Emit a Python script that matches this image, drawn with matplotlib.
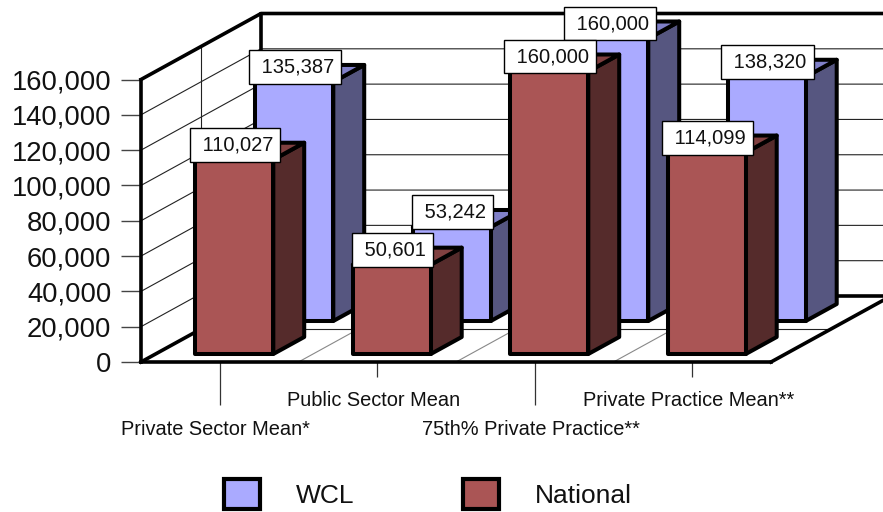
import matplotlib
matplotlib.use('Agg')
import matplotlib.pyplot as plt
from matplotlib.patches import Polygon, Patch
from matplotlib.transforms import ScaledTranslation

plt.rcParams['font.family'] = ['Liberation Sans', 'DejaVu Sans']

# Chart data
categories = ['Private Sector Mean*', 'Public Sector Mean', '75th% Private Practice**', 'Private Practice Mean**']
wcl = [135387, 53242, 160000, 138320]
national = [110027, 50601, 160000, 114099]
y_ticks = [0, 20000, 40000, 60000, 80000, 100000, 120000, 140000, 160000]

# Oblique projection, one depth unit moves the point right and up
depth_x = 120 / 157.5
depth_y = 66 * 160000 / 282.5
bar_width = 78 / 157.5
bar_depth = 17 / 66
bar_gap = (1 - bar_width) / 2


def proj(x, d, v):
    return (x + d * depth_x, v + d * depth_y)


fig = plt.figure(figsize=(8.83, 5.12), dpi=100)
ax = fig.add_axes([0, 0, 1, 1])
ax.set_xlim(-141 / 157.5, (883 - 141) / 157.5)
ax.set_ylim(-150 * 160000 / 282.5, 362 * 160000 / 282.5)
ax.patch.set_visible(False)

n = len(categories)
top = y_ticks[-1]

# Walls: gridlines
for v in y_ticks[1:]:
    xs, ys = zip(proj(0, 0, v), proj(0, 1, v), proj(n, 1, v))
    ax.plot(xs, ys, color='#222222', lw=0.8, zorder=1)

# Mid depth lines
xs, ys = zip(proj(0, 0.5, 0), proj(0, 0.5, top))
ax.plot(xs, ys, color='#222222', lw=0.8, zorder=1)
xs, ys = zip(proj(0, 0.5, 0), proj(n, 0.5, 0))
ax.plot(xs, ys, color='#222222', lw=0.8, zorder=1)
for i in range(1, n):
    xs, ys = zip(proj(i, 0, 0), proj(i, 1, 0))
    ax.plot(xs, ys, color='#888888', lw=0.8, zorder=1)

# Heavy outline of walls and floor
outline = [
    [proj(0, 0, top), proj(0, 1, top), proj(n, 1, top)],
    [proj(0, 1, top), proj(0, 1, 0), proj(n, 1, 0)],
    [proj(0, 0, 0), proj(0, 1, 0)],
    [proj(n, 0, 0), proj(n, 1, 0)],
]
for seg in outline:
    xs, ys = zip(*seg)
    ax.plot(xs, ys, color='black', lw=2.6, zorder=2, solid_capstyle='projecting')


def draw_bars(values, d0, front, side, roof, z):
    for i, v in enumerate(values):
        x0 = i + bar_gap
        x1 = x0 + bar_width
        d1 = d0 + bar_depth
        style = dict(edgecolor='black', lw=2.9, joinstyle='round', zorder=z)
        ax.add_patch(Polygon([proj(x1, d0, 0), proj(x1, d1, 0), proj(x1, d1, v), proj(x1, d0, v)], facecolor=side, **style))
        ax.add_patch(Polygon([proj(x0, d0, v), proj(x1, d0, v), proj(x1, d1, v), proj(x0, d1, v)], facecolor=roof, **style))
        ax.add_patch(Polygon([proj(x0, d0, 0), proj(x1, d0, 0), proj(x1, d0, v), proj(x0, d0, v)], facecolor=front, **style))
        ax.annotate(' ' + format(v, ','), proj(i + 0.5, d0, v), xytext=(0.5, 3.8), textcoords='offset points',
                    ha='center', va='bottom', fontsize=14.5, color='#111111', zorder=8,
                    bbox=dict(boxstyle='square,pad=0.36', facecolor='white', edgecolor='black', lw=1.0))


draw_bars(wcl, 41 / 66, '#AAAAFF', '#565680', '#8080C8', 4)
draw_bars(national, 8 / 66, '#AA5555', '#552B2B', '#804040', 5)

# Axes
for s in ['top', 'right']:
    ax.spines[s].set_visible(False)
ax.spines['left'].set_position(('data', 0))
ax.spines['left'].set_bounds(0, top)
ax.spines['bottom'].set_position(('data', 0))
ax.spines['bottom'].set_bounds(0, n)
ax.spines['left'].set_linewidth(2.6)
ax.spines['bottom'].set_linewidth(2.6)
ax.spines['left'].set_zorder(3)
ax.spines['bottom'].set_zorder(3)

ax.set_yticks(y_ticks)
ax.set_yticklabels([format(v, ',') for v in y_ticks], fontsize=19.7, color='#111111')
ax.tick_params(axis='y', length=14.5, width=1.0, color='#444444', pad=7)

ax.set_xticks([i + 0.5 for i in range(n)])
ax.set_xticklabels(categories, fontsize=14.4, color='#111111')

# Category labels sit on two staggered rows
for i, tick in enumerate(ax.xaxis.get_major_ticks()):
    long_tick = i % 2 == 0
    tick.set_pad(38.3 if long_tick else 17.4)
    tick.tick1line.set_markersize(31 if long_tick else 11)
    tick.tick1line.set_markeredgewidth(0.9)
    tick.tick1line.set_markeredgecolor('#333333')
    tick.label1.set_transform(tick.label1.get_transform() + ScaledTranslation(-0.04, 0, fig.dpi_scale_trans))

# Legend
handles = [Patch(facecolor='#AAAAFF', edgecolor='black', lw=3, label='WCL'),
           Patch(facecolor='#AA5555', edgecolor='black', lw=3, label='National')]
ax.legend(handles=handles, ncol=2, loc='center left', bbox_to_anchor=(224 / 883, 1 - 494 / 512),
          bbox_transform=fig.transFigure, frameon=False, fontsize=19, borderpad=0, borderaxespad=0,
          handlelength=1.38, handleheight=1.4, handletextpad=1.35, columnspacing=4.1, labelcolor='#111111')

fig.savefig('out.png', dpi=100)
